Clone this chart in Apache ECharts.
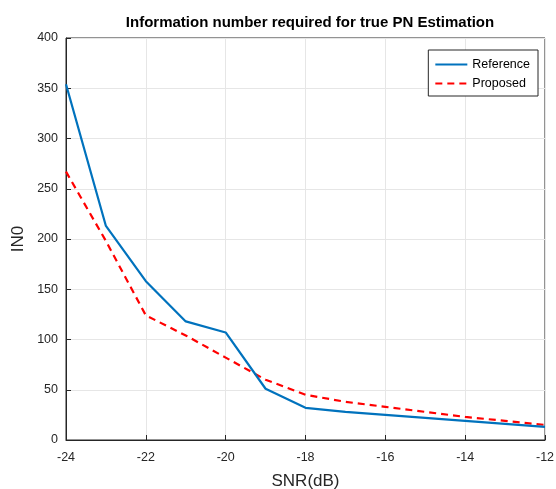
<!DOCTYPE html>
<html><head><meta charset="utf-8">
<script src="https://cdn.jsdelivr.net/npm/echarts@6/dist/echarts.min.js"></script>
<style>html,body{margin:0;padding:0;background:#fff}#c{width:556px;height:489px}</style>
</head><body><div id="c"></div>
<script>
const snr = [-24,-23,-22,-21,-20,-19,-18,-17,-16,-15,-14,-13,-12];
const referenceIN0 = [354,213,158,118,107,51,32,28,25,22,19,16,13];
const proposedIN0 = [267,198,124,104,82,60,45,38,33,28,23,19,15];
const FONT = '"Liberation Sans", Arial, Helvetica, sans-serif';
const chart = echarts.init(document.getElementById('c'));
chart.setOption({
  animation:false,
  backgroundColor:'#fff',
  title:{text:'Information number required for true PN Estimation',left:305,top:10,textAlign:'center',
    textStyle:{fontFamily:FONT,fontSize:15,fontWeight:'bold',color:'#000'}},
  grid:{left:66,right:11,top:38,bottom:49,show:true,borderColor:'#262626',borderWidth:1,backgroundColor:'#fff',
    containLabel:false,outerBoundsMode:'none'},
  legend:{show:true,orient:'vertical',right:18,top:50,backgroundColor:'#fff',borderColor:'#262626',borderWidth:1,
    padding:[8,8,6,6],itemGap:6,itemWidth:32,itemHeight:12,
    itemStyle:{opacity:0},
    textStyle:{fontFamily:FONT,fontSize:12.5,color:'#000'},
    data:['Reference','Proposed']},
  xAxis:{type:'value',min:-24,max:-12,interval:2,name:'SNR(dB)',nameLocation:'middle',nameGap:33,
    nameTextStyle:{fontFamily:FONT,fontSize:17,color:'#262626'},
    axisLine:{show:true,onZero:false,lineStyle:{color:'#262626'}},
    axisTick:{show:true,inside:true,length:5,lineStyle:{color:'#262626'}},
    axisLabel:{fontFamily:FONT,fontSize:12.5,color:'#262626',margin:11},
    splitLine:{show:true,lineStyle:{color:'#e6e6e6'}}},
  yAxis:{type:'value',min:0,max:400,interval:50,name:'IN0',nameLocation:'middle',nameGap:39,nameMoveOverlap:false,
    nameTextStyle:{fontFamily:FONT,fontSize:17,color:'#262626'},
    axisLine:{show:true,onZero:false,lineStyle:{color:'#262626'}},
    axisTick:{show:true,inside:true,length:5,lineStyle:{color:'#262626'}},
    axisLabel:{fontFamily:FONT,fontSize:12.5,color:'#262626',margin:8},
    splitLine:{show:true,lineStyle:{color:'#e6e6e6'}}},
  series:[
    {name:'Reference',type:'line',data:snr.map((x,i)=>[x,referenceIN0[i]]),symbol:'none',
      lineStyle:{color:'#0072BD',width:2.2},itemStyle:{color:'#0072BD'},z:3},
    {name:'Proposed',type:'line',data:snr.map((x,i)=>[x,proposedIN0[i]]),symbol:'none',
      lineStyle:{color:'#FF0000',width:2.2,type:[7,5]},itemStyle:{color:'#FF0000'},z:2}
  ]
});
</script></body></html>
